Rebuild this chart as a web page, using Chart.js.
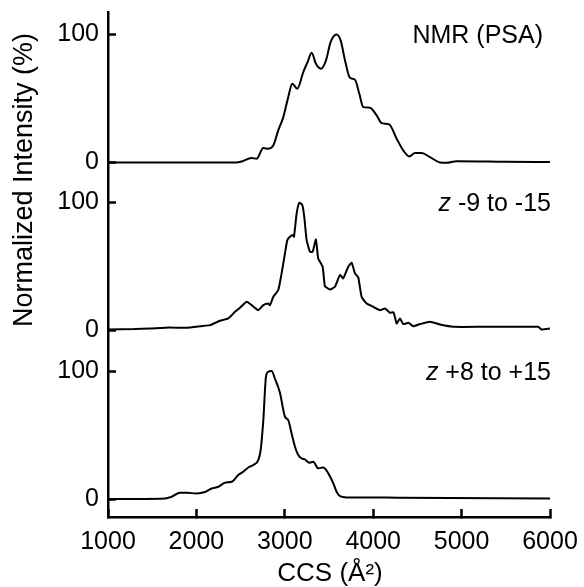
<!DOCTYPE html>
<html>
<head>
<meta charset="utf-8">
<script src="https://cdn.jsdelivr.net/npm/chart.js@4.4.1/dist/chart.umd.min.js"></script>
<style>
  body { margin: 0; background: #fff; }
  #wrap { width: 584px; height: 587px; }
</style>
</head>
<body>
<div id="wrap"><canvas id="myChart"></canvas></div>
<script>
// x ticks
var xTicks = [1000, 2000, 3000, 4000, 5000, 6000];
// y tick labels shown in each panel
var yTickLabels = ['0', '100'];

// panel names (top to bottom) and their vertical offsets
var panelNames = ['NMR (PSA)', '-9 to -15', '+8 to +15'];
var panelItalic = ['', 'z', 'z'];
var panelOffsets = [263, 132, 0];

// NMR (PSA)
var nmrX = [1000, 2450, 2500, 2625, 2681, 2757, 2813, 2870, 2926, 2983, 3039, 3084, 3141, 3209, 3258, 3304, 3352, 3409, 3466, 3518, 3586, 3632, 3681, 3737, 3794, 3843, 3888, 3963, 4039, 4096, 4181, 4265, 4340, 4408, 4472, 4548, 4642, 4755, 4830, 4943, 5500, 6000];
var nmrY = [0, 0, 0.5, 3.4, 2.9, 11.2, 10.7, 13.3, 25, 35.4, 51, 61.5, 57.6, 70.6, 78.4, 85.7, 77, 73.2, 79.7, 94, 100, 95.3, 79.7, 66.1, 64.6, 53.6, 43.2, 42.7, 36.7, 30.7, 29.7, 18.5, 9.4, 4.7, 7.3, 7.3, 4.2, 0, -0.3, 1.0, 0.6, 0.3];

// z -9 to -15
var negX = [1000, 1300, 1475, 1700, 1850, 1927, 2040, 2154, 2267, 2361, 2436, 2493, 2569, 2625, 2700, 2757, 2813, 2832, 2870, 2926, 2964, 3002, 3028, 3058, 3089, 3104, 3134, 3164, 3198, 3220, 3247, 3284, 3315, 3352, 3378, 3428, 3454, 3511, 3567, 3624, 3661, 3718, 3756, 3794, 3831, 3869, 3926, 4001, 4077, 4133, 4190, 4230, 4265, 4303, 4340, 4397, 4453, 4529, 4642, 4755, 4906, 5245, 5622, 5867, 5905, 6000];
var negY = [0.5, 0.8, 1.3, 2.1, 1.8, 2.0, 3.1, 3.9, 7.3, 9.1, 14.3, 17.5, 22.1, 19.5, 15.6, 19.5, 20.8, 19.5, 26, 31.3, 44.3, 59.9, 70.3, 72.9, 74.2, 72.9, 91.1, 99.5, 97.7, 88.5, 70.3, 61.2, 61.2, 70.8, 56, 49.5, 34.4, 31.8, 33.9, 43, 40.4, 49.5, 52.6, 44.3, 41.2, 26, 20.8, 18.2, 15.6, 16.9, 13.5, 14, 5.2, 9.1, 4.7, 5.7, 3.1, 4.7, 6.5, 4.4, 2.6, 2.6, 2.6, 2.6, 0.5, 1.3];

// z +8 to +15
var posX = [1000, 1645, 1720, 1814, 1890, 2003, 2097, 2173, 2248, 2323, 2399, 2474, 2530, 2587, 2643, 2700, 2727, 2757, 2787, 2813, 2851, 2889, 2945, 3002, 3039, 3077, 3115, 3152, 3190, 3228, 3277, 3322, 3378, 3435, 3492, 3549, 3586, 3624, 3699, 3963, 4303, 6000];
var posY = [0, 0.5, 1.8, 4.9, 4.9, 4.4, 5.5, 8.3, 9.6, 12.8, 13.5, 18.8, 21.4, 24.7, 26.6, 30.5, 38.3, 61.7, 95.6, 99.5, 100, 94, 83, 64.3, 61.7, 51.3, 40.9, 34.4, 31.8, 31, 28.4, 29.2, 24, 24.7, 20.1, 12.3, 5.7, 2.3, 1.3, 1.3, 1.0, 0.5];

var FONT = '"Liberation Sans", Arial, sans-serif';

function toPoints(xs, ys, offset) {
    var pts = [];
    for (var i = 0; i < xs.length; i++) {
        pts.push({x: xs[i], y: ys[i] + offset});
    }
    return pts;
}

// axis titles and panel labels
var extras = {
    id: 'extras',
    afterDraw: function(chart) {
        var c = chart.ctx;
        var ys = chart.scales.y;
        c.save();
        c.fillStyle = '#000';
        c.font = '26px ' + FONT;
        c.textAlign = 'center';
        c.textBaseline = 'middle';
        c.fillText('CCS (Å²)', 330, 574);

        c.save();
        c.translate(25, 180);
        c.rotate(-Math.PI / 2);
        c.font = '27px ' + FONT;
        c.fillText('Normalized Intensity (%)', 0, 0);
        c.restore();

        c.textAlign = 'left';
        c.textBaseline = 'alphabetic';
        panelNames.forEach(function(name, n) {
            var right = n == 0 ? 543 : 551;
            var base = Math.round(ys.getPixelForValue(100 + panelOffsets[n])) + 9;
            c.font = '25px ' + FONT;
            var w = c.measureText(name).width;
            var x0 = right - w;
            if (panelItalic[n]) {
                c.font = 'italic 25px ' + FONT;
                var zw = c.measureText(panelItalic[n] + ' ').width;
                c.fillText(panelItalic[n], x0 - zw, base);
                c.font = '25px ' + FONT;
            }
            c.fillText(name, x0, base);
        });
        c.restore();
    }
};

var ctx = document.getElementById('myChart').getContext('2d');

var lineStyle = {
    borderColor: '#000',
    borderWidth: 2,
    pointRadius: 0,
    fill: false
};

var myChart = new Chart(ctx, {
    type: 'line',
    data: {
        datasets: [
            Object.assign({label: panelNames[0], data: toPoints(nmrX, nmrY, panelOffsets[0]), cubicInterpolationMode: 'monotone'}, lineStyle),
            Object.assign({label: panelNames[1], data: toPoints(negX, negY, panelOffsets[1]), tension: 0.15}, lineStyle),
            Object.assign({label: panelNames[2], data: toPoints(posX, posY, panelOffsets[2]), cubicInterpolationMode: 'monotone'}, lineStyle)
        ]
    },
    options: {
        responsive: true,
        maintainAspectRatio: false,
        animation: false,
        layout: { padding: { top: 12, right: 34, left: 0, bottom: 0 } },
        plugins: { legend: { display: false }, tooltip: { enabled: false } },
        scales: {
            x: {
                type: 'linear',
                min: 1000,
                max: 6000,
                afterFit: function(s) {
                    s.height = 70;
                    s.paddingLeft = 0;
                    s.paddingRight = 0;
                },
                afterBuildTicks: function(s) { s.ticks = xTicks.map(function(v) { return {value: v}; }); },
                grid: {
                    display: true,
                    drawOnChartArea: false,
                    drawTicks: true,
                    tickLength: -8,
                    tickWidth: 2.5,
                    tickColor: '#000'
                },
                border: { display: true, color: '#000', width: 2.5 },
                ticks: {
                    color: '#000',
                    padding: 18,
                    maxRotation: 0,
                    font: { family: FONT, size: 25 },
                    callback: function(v) { return String(v); }
                }
            },
            y: {
                type: 'linear',
                min: -14,
                max: 380.5,
                afterFit: function(s) {
                    s.width = 108;
                    s.paddingTop = 0;
                    s.paddingBottom = 0;
                },
                afterBuildTicks: function(s) {
                    var t = [];
                    panelOffsets.forEach(function(off) {
                        t.push({value: off}, {value: off + 100});
                    });
                    s.ticks = t;
                },
                grid: {
                    display: true,
                    drawOnChartArea: false,
                    drawTicks: true,
                    tickLength: -8,
                    tickWidth: 2.5,
                    tickColor: '#000'
                },
                border: { display: true, color: '#000', width: 2.5 },
                ticks: {
                    color: '#000',
                    padding: 17,
                    font: { family: FONT, size: 25 },
                    callback: function(v) {
                        for (var i = 0; i < panelOffsets.length; i++) {
                            if (v == panelOffsets[i]) return yTickLabels[0];
                            if (v == panelOffsets[i] + 100) return yTickLabels[1];
                        }
                        return '';
                    }
                }
            }
        }
    },
    plugins: [extras]
});
</script>
</body>
</html>
